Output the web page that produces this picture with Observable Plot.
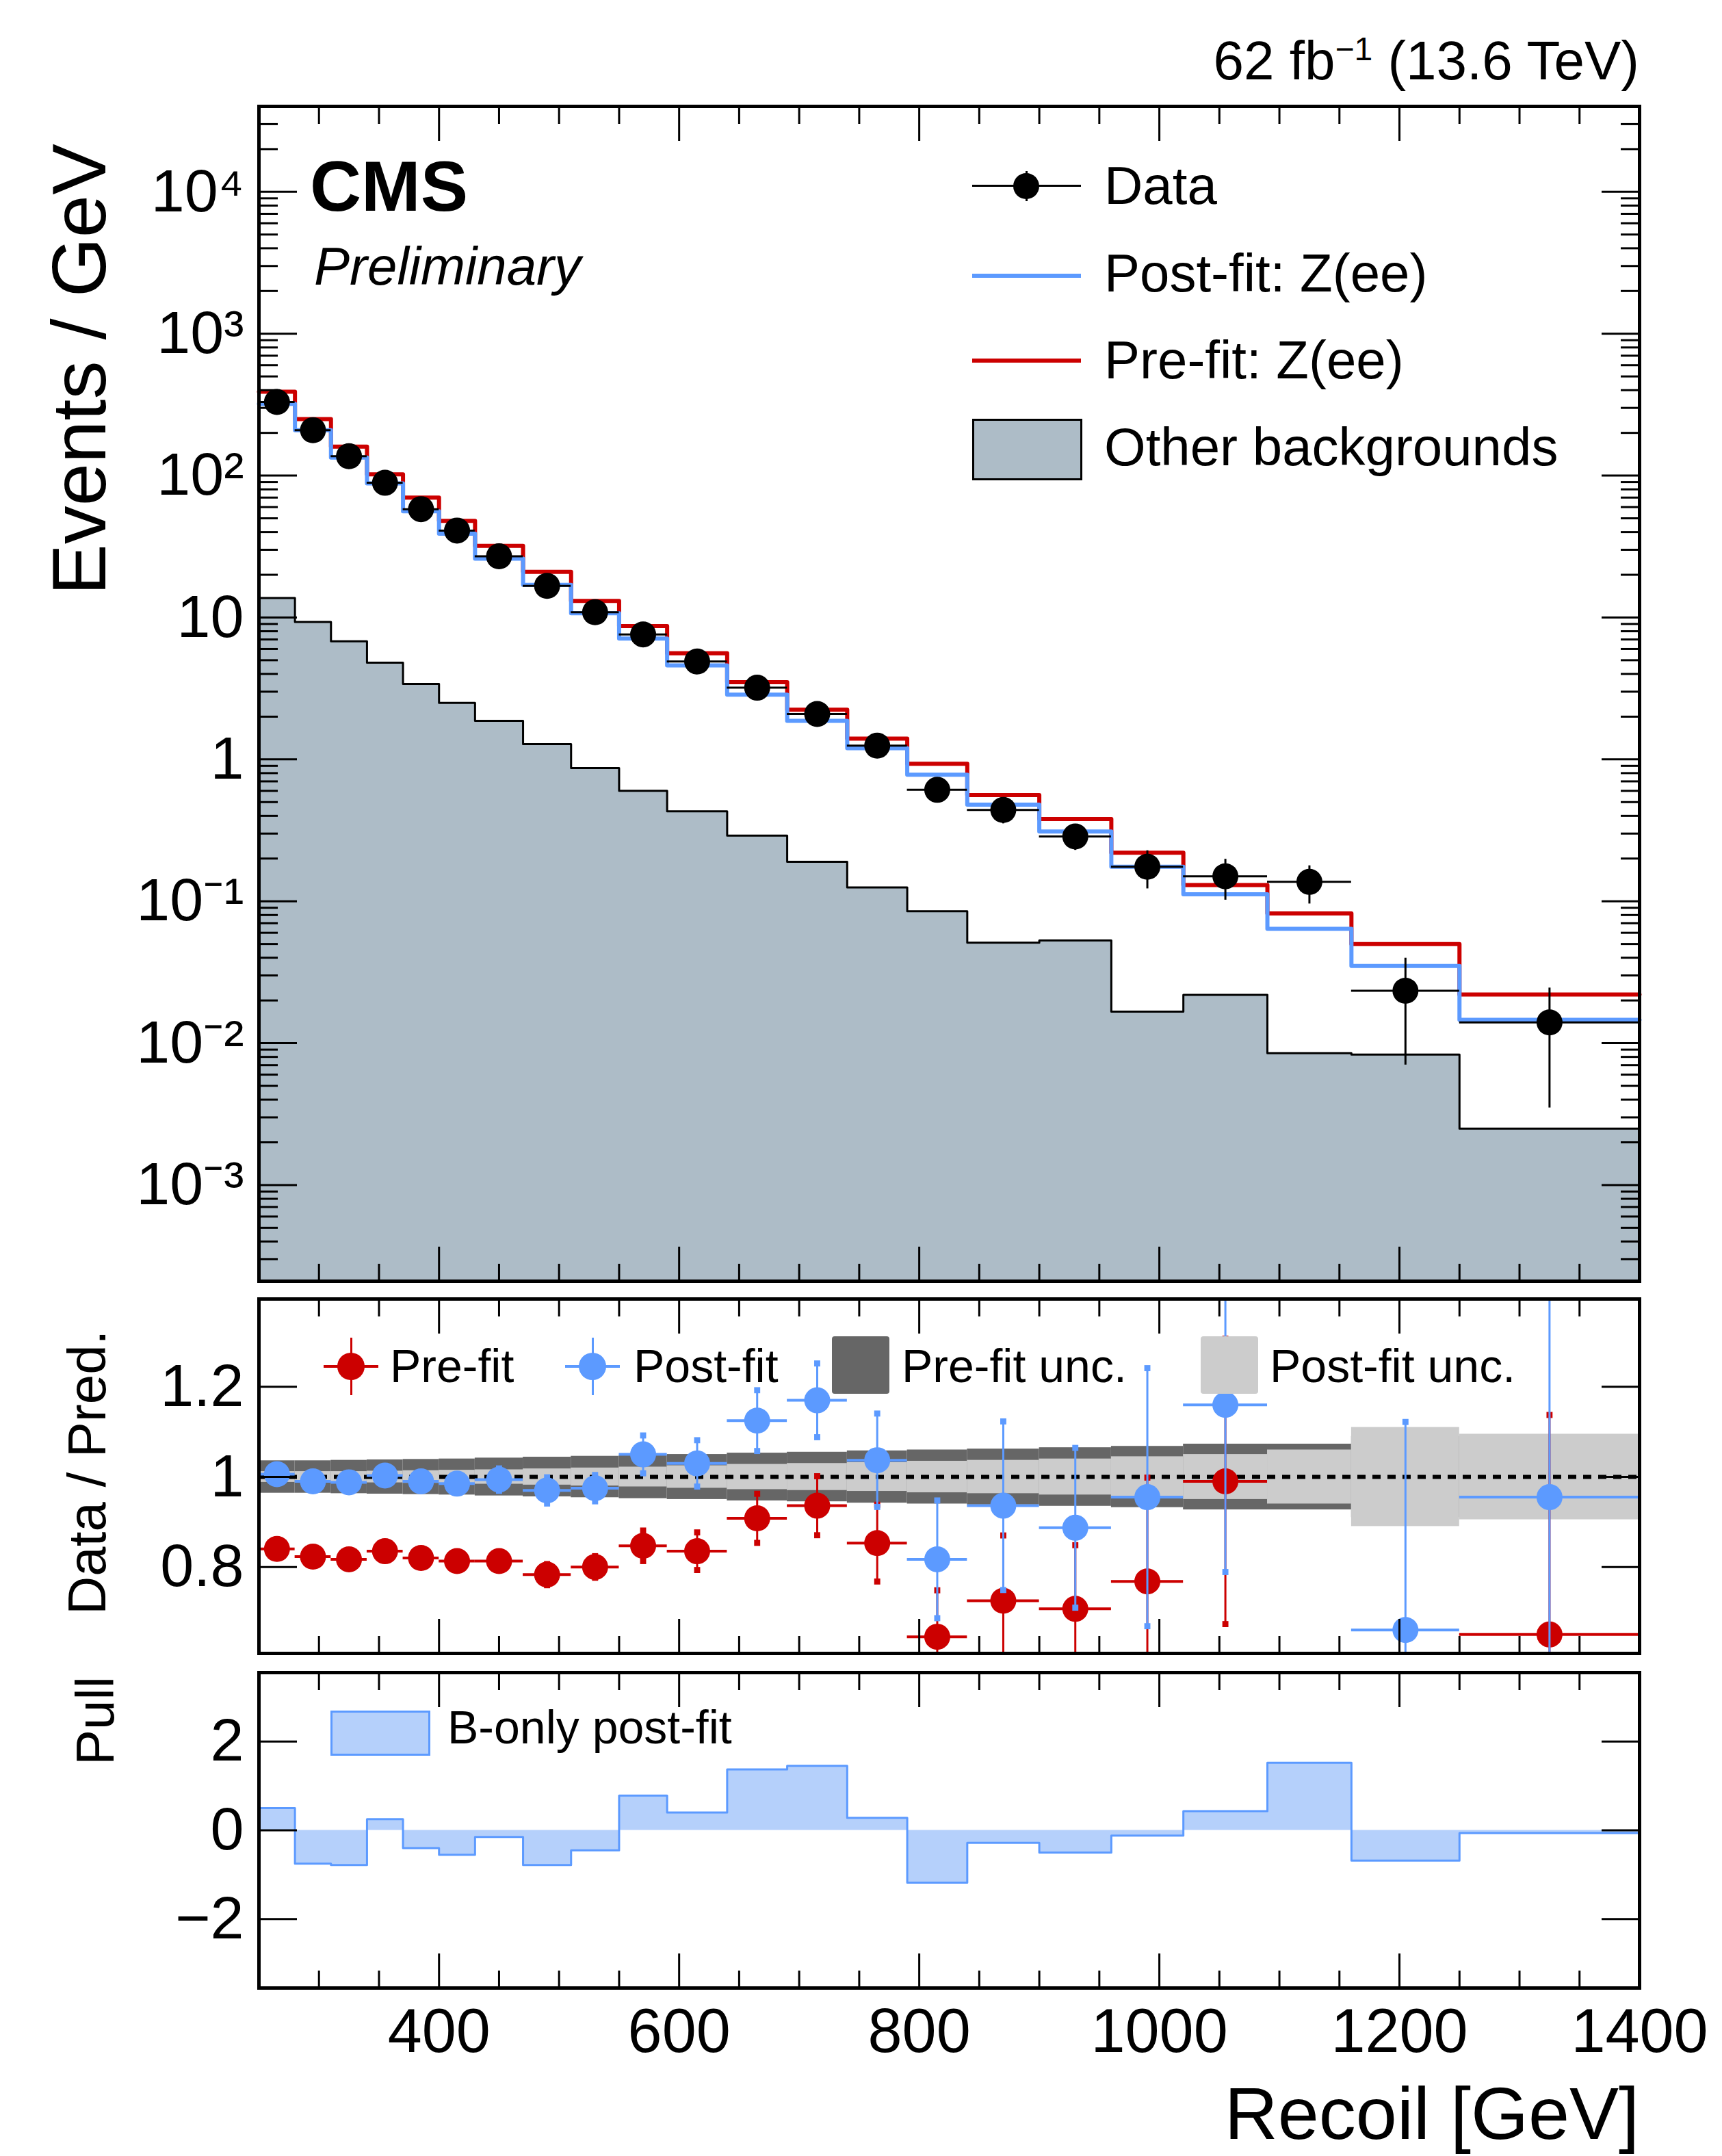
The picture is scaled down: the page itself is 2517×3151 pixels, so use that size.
<!DOCTYPE html>
<html><head><meta charset="utf-8">
<script src="https://cdn.jsdelivr.net/npm/d3@7"></script>
<script src="https://cdn.jsdelivr.net/npm/@observablehq/plot@0.6"></script>
<style>
body{margin:0;background:#fff;font-family:"Liberation Sans",Arial,sans-serif;}
#wrap{position:relative;width:2517px;height:3151px;}
#wrap svg{position:absolute;left:0;overflow:visible;}
.t{position:absolute;white-space:nowrap;line-height:1;color:#000;}
</style></head><body>
<div id="wrap"></div>
<script>
// Recoil bins [GeV]
const edges = [250,280,310,340,370,400,430,470,510,550,590,640,690,740,790,840,900,960,1020,1090,1160,1250,1400];
// Events / GeV
const dataY   = [330,209,137,89,58,41,27,16.7,10.9,7.6,4.9,3.2,2.09,1.25,0.61,0.44,0.286,0.175,0.15,0.137,0.0234,0.014];
const dataErr = [0.02,0.02,0.02,0.02,0.02,0.02,0.025,0.03,0.03,0.04,0.05,0.06,0.07,0.1,0.16,0.2,0.2,0.3,0.32,0.3,0.7,0.75];
const preFit  = [390,250,160,102,70,48,32,21,13.1,8.7,5.6,3.5,2.24,1.4,0.93,0.56,0.38,0.22,0.13,0.082,0.05,0.022];
const postFit = [320,209,134,88,56,39,26,17,10.7,7.1,4.6,2.86,1.87,1.2,0.78,0.48,0.31,0.175,0.112,0.064,0.035,0.0146];
const otherBkg = [13.7,9.3,6.8,4.8,3.4,2.5,1.87,1.28,0.87,0.6,0.43,0.29,0.19,0.125,0.085,0.051,0.053,0.0167,0.0219,0.0085,0.0083,0.0025];
// Data / Pred.
const ratioPre  = [0.84,0.823,0.817,0.835,0.82,0.813,0.813,0.783,0.8,0.847,0.835,0.908,0.936,0.853,0.645,0.725,0.707,0.768,0.99,null,null,0.65];
const ratioPost = [1.006,0.99,0.988,1.003,0.99,0.985,0.994,0.97,0.975,1.05,1.03,1.125,1.17,1.037,0.817,0.936,0.887,0.955,1.16,null,0.66,0.955];
const uncPre  = [0.036,0.036,0.037,0.038,0.039,0.04,0.042,0.044,0.046,0.048,0.05,0.053,0.055,0.058,0.06,0.062,0.065,0.068,0.073,0.073,0.09,0.08];
const uncPost = [0.012,0.012,0.012,0.013,0.014,0.015,0.016,0.018,0.02,0.022,0.025,0.028,0.03,0.032,0.035,0.037,0.04,0.045,0.05,0.06,0.11,0.095];
// Pull
const pull = [0.5,-0.75,-0.78,0.25,-0.4,-0.55,-0.15,-0.78,-0.45,0.78,0.4,1.37,1.45,0.28,-1.18,-0.28,-0.5,-0.12,0.43,1.52,-0.68,-0.06];

const RED = "#cc0000", BLUE = "#5c9aff", GREY = "#adbcc7";
const FONT = "Liberation Sans, Arial, sans-serif";
const W = 2517, ML = 378, MR = 121;

const bins = dataY.map((y, i) => ({
  x1: edges[i], x2: edges[i + 1], xc: (edges[i] + edges[i + 1]) / 2,
  y, lo: y * (1 - dataErr[i]), hi: y * (1 + dataErr[i]),
  pre: preFit[i], post: postFit[i], bkg: otherBkg[i],
  rPre: ratioPre[i], rPost: ratioPost[i], e: dataErr[i],
  uPre: uncPre[i], uPost: uncPost[i], pull: pull[i]
}));
const step = key => edges.map((x, i) => ({ x, v: bins[Math.min(i, bins.length - 1)][key] }));

const xMajor = [400,600,800,1000,1200,1400];
const xMinor = d3.range(250, 1401, 50).filter(v => !xMajor.includes(v));

function xAxes(labels) {
  return [
    Plot.axisX(xMajor, { anchor: "bottom", tickSize: -50, tickFormat: labels ? d => String(d) : () => "", tickPadding: labels ? 80 : 0, label: null, strokeWidth: 3, fontSize: 90 }),
    Plot.axisX(xMinor, { anchor: "bottom", tickSize: -25, tickFormat: () => "", label: null, strokeWidth: 3 }),
    Plot.axisX(xMajor, { anchor: "top", tickSize: -50, tickFormat: () => "", label: null, strokeWidth: 3 }),
    Plot.axisX(xMinor, { anchor: "top", tickSize: -25, tickFormat: () => "", label: null, strokeWidth: 3 })
  ];
}
function yAxes(major, minor, fmt, size) {
  const out = [
    Plot.axisY(major, { anchor: "left", tickSize: -size, tickPadding: size + 22, tickFormat: fmt, label: null, strokeWidth: 3, fontSize: 88 }),
    Plot.axisY(major, { anchor: "right", tickSize: -size, tickFormat: () => "", label: null, strokeWidth: 3 })
  ];
  if (minor.length) out.push(
    Plot.axisY(minor, { anchor: "left", tickSize: -size / 2, tickFormat: () => "", label: null, strokeWidth: 3 }),
    Plot.axisY(minor, { anchor: "right", tickSize: -size / 2, tickFormat: () => "", label: null, strokeWidth: 3 }));
  return out;
}

const wrap = document.getElementById("wrap");
function place(svg, top) { svg.style.top = top + "px"; wrap.appendChild(svg); }
function text(s, x, y, size, extra = "") {
  const d = document.createElement("div");
  d.className = "t"; d.innerHTML = s;
  d.style.cssText += `left:${x}px;top:${y}px;font-size:${size}px;${extra}`;
  wrap.appendChild(d); return d;
}

// ---- main panel
const logMajor = [1e-3,1e-2,1e-1,1,10,100,1e3,1e4];
const logMinor = [];
for (let e = -4; e <= 4; e++) for (let k = 2; k <= 9; k++) { const v = k * 10 ** e; if (v > 2.1e-4 && v < 4e4) logMinor.push(v); }
const logLab = { "0.001": "10⁻³", "0.01": "10⁻²", "0.1": "10⁻¹", "1": "1", "10": "10", "100": "10²", "1000": "10³", "10000": "10⁴" };

const main = Plot.plot({
  width: W, height: 1880, marginLeft: ML, marginRight: MR, marginTop: 155, marginBottom: 8,
  style: { fontFamily: FONT, fontSize: "88px", color: "#000", background: "transparent" },
  x: { domain: [250, 1400] },
  y: { type: "log", domain: [2.1e-4, 4e4] },
  marks: [
    Plot.areaY(step("bkg"), { x: "x", y1: 1e-5, y2: "v", curve: "step-after", fill: GREY, clip: true }),
    Plot.line(step("bkg"), { x: "x", y: "v", curve: "step-after", stroke: "#000", strokeWidth: 3 }),
    Plot.line(step("pre"), { x: "x", y: "v", curve: "step-after", stroke: RED, strokeWidth: 6 }),
    Plot.line(step("post"), { x: "x", y: "v", curve: "step-after", stroke: BLUE, strokeWidth: 6 }),
    Plot.ruleY(bins, { x1: "x1", x2: "x2", y: "y", stroke: "#000", strokeWidth: 3 }),
    Plot.ruleX(bins, { x: "xc", y1: "lo", y2: "hi", stroke: "#000", strokeWidth: 3 }),
    Plot.dot(bins, { x: "xc", y: "y", r: 19, fill: "#000" }),
    ...xAxes(false),
    ...yAxes(logMajor, logMinor, d => logLab[String(d)], 56),
    Plot.frame({ stroke: "#000", strokeWidth: 5 })
  ]
});
place(main, 0);

// ---- ratio panel
function ratioMarks(key, color) {
  const pts = bins.filter(d => d[key] != null);
  const caps = pts.flatMap(d => [{ x: d.xc, y: d[key] * (1 - d.e) }, { x: d.xc, y: d[key] * (1 + d.e) }]);
  return [
    Plot.ruleX(pts, { x: "xc", y1: d => d[key] * (1 - d.e), y2: d => d[key] * (1 + d.e), stroke: color, strokeWidth: 3, clip: true }),
    Plot.dot(caps, { x: "x", y: "y", symbol: "square", r: 5, fill: color, clip: true }),
    Plot.ruleY(pts, { x1: "x1", x2: "x2", y: key, stroke: color, strokeWidth: 4, clip: true }),
    Plot.dot(pts, { x: "xc", y: key, r: 19, fill: color, clip: true })
  ];
}
const ratio = Plot.plot({
  width: W, height: 545, marginLeft: ML, marginRight: MR, marginTop: 18, marginBottom: 9,
  style: { fontFamily: FONT, fontSize: "88px", color: "#000", background: "transparent" },
  x: { domain: [250, 1400] },
  y: { domain: [0.608, 1.395] },
  marks: [
    Plot.rect(bins, { x1: "x1", x2: "x2", y1: d => 1 - d.uPre, y2: d => 1 + d.uPre, fill: "#666", clip: true }),
    Plot.rect(bins, { x1: "x1", x2: "x2", y1: d => 1 - d.uPost, y2: d => 1 + d.uPost, fill: "#cccccc", clip: true }),
    Plot.ruleY([1], { stroke: "#000", strokeWidth: 6, strokeDasharray: "12 10" }),
    ...ratioMarks("rPre", RED),
    ...ratioMarks("rPost", BLUE),
    ...xAxes(false),
    ...yAxes([0.8, 1, 1.2], [], d => d, 56),
    Plot.frame({ stroke: "#000", strokeWidth: 5 })
  ]
});
place(ratio, 1880);

// ---- pull panel
const pullP = Plot.plot({
  width: W, height: 726, marginLeft: ML, marginRight: MR, marginTop: 19, marginBottom: 246,
  style: { fontFamily: FONT, fontSize: "88px", color: "#000", background: "transparent" },
  x: { domain: [250, 1400] },
  y: { domain: [-3.55, 3.55] },
  marks: [
    Plot.areaY(step("pull"), { x: "x", y1: 0, y2: "v", curve: "step-after", fill: "#b5d0fb" }),
    Plot.line(step("pull"), { x: "x", y: "v", curve: "step-after", stroke: BLUE, strokeWidth: 3 }),
    ...xAxes(true),
    ...yAxes([-2, 0, 2], [], d => d < 0 ? "−" + Math.abs(d) : d, 56),
    Plot.frame({ stroke: "#000", strokeWidth: 5 })
  ]
});
place(pullP, 2425);

// ---- texts
text("62 fb<sup style='font-size:0.6em'>−1</sup> (13.6 TeV)", 0, 48, 80, "left:auto;right:121px;");
text("CMS", 453, 220, 104, "font-weight:bold;");
text("Preliminary", 459, 350, 78, "font-style:italic;");
text("Events / GeV", 60, 870, 112, "transform:rotate(-90deg);transform-origin:0 0;");
text("Data / Pred.", 88, 2360, 78, "transform:rotate(-90deg);transform-origin:0 0;");
text("Pull", 100, 2580, 78, "transform:rotate(-90deg);transform-origin:0 0;");
text("Recoil [GeV]", 0, 3035, 108, "left:auto;right:121px;");

// main legend
const lg = [["Data", 272], ["Post-fit: Z(ee)", 400], ["Pre-fit: Z(ee)", 527], ["Other backgrounds", 654]];
lg.forEach(([s, y]) => text(s, 1614, y - 40, 78));
function box(x, y, w, h, css) { const d = document.createElement("div"); d.style.cssText = `position:absolute;left:${x}px;top:${y}px;width:${w}px;height:${h}px;${css}`; wrap.appendChild(d); }
box(1421, 270, 159, 3, "background:#000");
box(1499, 250, 3, 44, "background:#000");
box(1481, 253, 38, 38, "background:#000;border-radius:50%");
box(1421, 400, 159, 6, "background:" + BLUE);
box(1421, 524, 159, 6, "background:" + RED);
box(1421, 612, 155, 84, "background:" + GREY + ";border:3px solid #000");

// ratio legend
text("Pre-fit", 570, 1962, 68);
text("Post-fit", 926, 1962, 68);
text("Pre-fit unc.", 1318, 1962, 68);
text("Post-fit unc.", 1856, 1962, 68);
[[513, RED], [866, BLUE]].forEach(([x, c]) => {
  box(x - 40, 1995, 80, 4, "background:" + c);
  box(x - 1, 1955, 3, 84, "background:" + c);
  box(x - 20, 1977, 40, 40, "background:" + c + ";border-radius:50%");
});
box(1216, 1953, 84, 84, "background:#666;border-radius:4px");
box(1755, 1953, 84, 84, "background:#ccc;border-radius:4px");

// pull legend
box(483, 2500, 140, 60, "background:#b5d0fb;border:3px solid " + BLUE);
text("B-only post-fit", 654, 2490, 68);
</script>
</body></html>
